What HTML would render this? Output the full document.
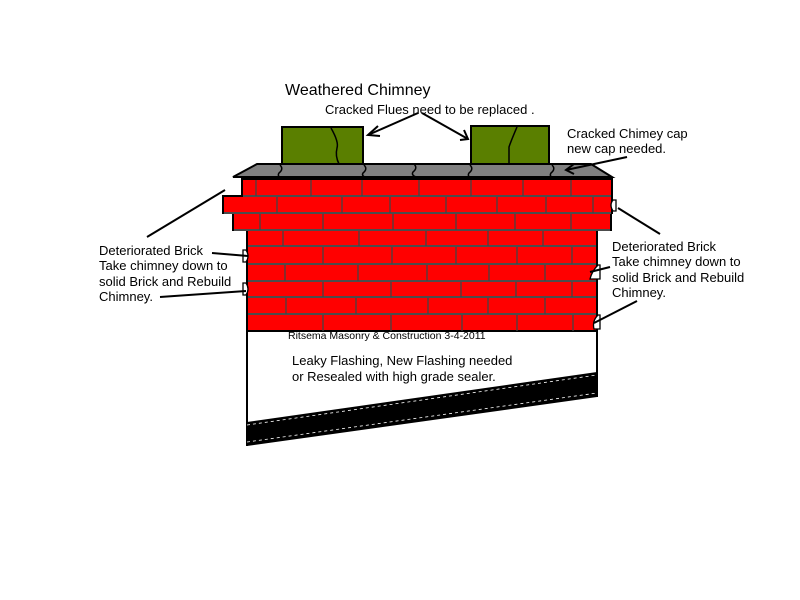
<!DOCTYPE html>
<html><head><meta charset="utf-8"><style>body{margin:0;background:#fff}svg{display:block}</style></head><body>
<svg width="800" height="600" viewBox="0 0 800 600" xmlns="http://www.w3.org/2000/svg" font-family="Liberation Sans, sans-serif">
<rect width="800" height="600" fill="#fff"/>
<!-- body -->
<path d="M247 330 V446 M597 330 V397" stroke="#000" stroke-width="2"/>
<polygon points="247,422 597,372 597,397 247,446" fill="#000"/>
<line x1="247" y1="425" x2="597" y2="375" stroke="#fff" stroke-width="0.8" stroke-dasharray="3,3"/>
<line x1="247" y1="442" x2="597" y2="393" stroke="#fff" stroke-width="0.8" stroke-dasharray="3,3"/>
<text x="288" y="339" font-size="10.5">Ritsema Masonry &amp; Construction 3-4-2011</text>
<!-- brick rows -->
<g fill="#f00" stroke="#000" stroke-width="2">
<rect x="242" y="179" width="370" height="17"/>
<rect x="223" y="196" width="389" height="17"/>
<rect x="233" y="213" width="378" height="17"/>
<rect x="247" y="230" width="350" height="16"/>
<rect x="247" y="246" width="350" height="18"/>
<rect x="247" y="264" width="350" height="17"/>
<rect x="247" y="281" width="350" height="16"/>
<rect x="247" y="297" width="350" height="17"/>
<rect x="247" y="314" width="350" height="17"/>
</g>
<g stroke="#666" stroke-width="1.5">
<line x1="243" y1="196" x2="611" y2="196"/><line x1="224" y1="213" x2="611" y2="213"/><line x1="234" y1="230" x2="610" y2="230"/>
<line x1="248" y1="246" x2="596" y2="246"/><line x1="248" y1="264" x2="596" y2="264"/><line x1="248" y1="281" x2="596" y2="281"/><line x1="248" y1="297" x2="596" y2="297"/><line x1="248" y1="314" x2="596" y2="314"/>
</g>
<g stroke="#444" stroke-width="1.3">
<path d="M256 180v16M311 180v16M362 180v16M419 180v16M471 180v16M523 180v16M571 180v16"/>
<path d="M277 197v16M342 197v16M390 197v16M446 197v16M497 197v16M546 197v16M593 197v16"/>
<path d="M260 214v16M323 214v16M393 214v16M456 214v16M515 214v16M571 214v16"/>
<path d="M283 231v15M359 231v15M426 231v15M488 231v15M543 231v15"/>
<path d="M323 247v17M392 247v17M456 247v17M517 247v17M572 247v17"/>
<path d="M285 265v16M358 265v16M427 265v16M489 265v16M545 265v16"/>
<path d="M323 282v15M391 282v15M461 282v15M516 282v15M572 282v15"/>
<path d="M286 298v16M356 298v16M428 298v16M488 298v16M545 298v16"/>
<path d="M323 315v16M391 315v16M462 315v16M517 315v16M573 315v16"/>
</g>
<!-- crack notches -->
<g fill="#fff" stroke="#000" stroke-width="1.3">
<path d="M246 250 q4 6 0 12 l-3 0 v-12z"/>
<path d="M246 283 q4 6 0 12 l-3 0 v-12z"/>
<path d="M598 265 q-6 6 -8 14 l10 0 v-14z"/>
<path d="M598 315 q-6 6 -4 14 l6 0 v-14z"/>
<path d="M613 200 q-4 5 0 11 l3 0 v-11z"/>
</g>
<!-- cap -->
<polygon points="233,177 257,164 591,164 612,177" fill="#808080" stroke="#000" stroke-width="2"/>
<!-- flues -->
<rect x="282" y="127" width="81" height="37" fill="#5a7f00" stroke="#000" stroke-width="2"/>
<rect x="471" y="126" width="78" height="38" fill="#5a7f00" stroke="#000" stroke-width="2"/>
<g fill="none" stroke="#000" stroke-width="1.5">
<path d="M331 128 q8 14 6 20 q-2 8 2 16"/>
<path d="M517 127 q-6 14 -8 20 q0 8 0 17"/>
<path d="M280 165 q4 4 -1 8 q-2 3 2 5"/>
<path d="M364 165 q4 4 -1 8 q-2 3 4 5"/>
<path d="M414 164 q4 4 -1 8 q-2 3 3 5"/>
<path d="M470 165 q4 4 -1 8 q-2 3 2 5"/>
<path d="M552 165 q4 4 -1 8 q-2 3 2 5"/>
</g>
<!-- leaders -->
<g stroke="#000" stroke-width="2" fill="none">
<line x1="418" y1="113" x2="368" y2="135"/><path d="M378 126 l-10 9 12 1"/>
<line x1="422" y1="113" x2="468" y2="139"/><path d="M460 140 l8 -1 -4 -9"/>
<line x1="627" y1="157" x2="566" y2="170"/><path d="M574 164 l-8 6 8 4"/>
<line x1="225" y1="190" x2="147" y2="237"/>
<line x1="212" y1="253" x2="248" y2="256"/>
<line x1="160" y1="297" x2="246" y2="291"/>
<line x1="618" y1="208" x2="660" y2="234"/>
<line x1="590" y1="272" x2="610" y2="267"/>
<line x1="594" y1="323" x2="637" y2="301"/>
</g>
<!-- text -->
<text x="285" y="95" font-size="16">Weathered Chimney</text>
<text x="325" y="114" font-size="13">Cracked Flues need to be replaced .</text>
<text x="567" y="138" font-size="13">Cracked Chimey cap</text>
<text x="567" y="153" font-size="13">new cap needed.</text>
<g font-size="13">
<text x="99" y="255">Deteriorated Brick</text>
<text x="99" y="270">Take chimney down to</text>
<text x="99" y="286">solid Brick and Rebuild</text>
<text x="99" y="301">Chimney.</text>
<text x="612" y="251">Deteriorated Brick</text>
<text x="612" y="266">Take chimney down to</text>
<text x="612" y="282">solid Brick and Rebuild</text>
<text x="612" y="297">Chimney.</text>
<text x="292" y="365">Leaky Flashing, New Flashing needed</text>
<text x="292" y="381">or Resealed with high grade sealer.</text>
</g>
</svg>
</body></html>
